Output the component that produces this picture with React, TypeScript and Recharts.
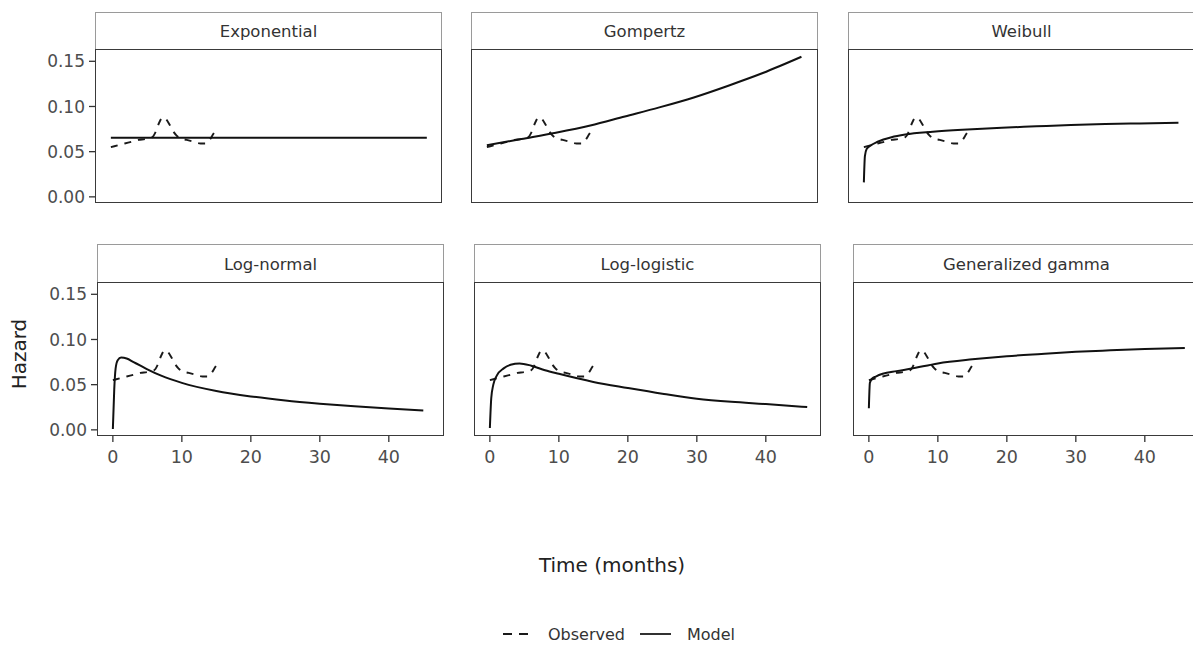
import React from "react";
import { LineChart, Line, XAxis, YAxis } from "recharts";

// ---------- data ----------
const panelTitles = ["Exponential", "Gompertz", "Weibull", "Log-normal", "Log-logistic", "Generalized gamma"];

const xTicks = [0, 10, 20, 30, 40];
const yTicks = [0, 0.05, 0.1, 0.15];

// Observed (smoothed empirical hazard), same in every panel
const obsTime = [0, 1, 2, 3, 4, 5, 6, 6.5, 7, 7.5, 8, 8.5, 9, 9.5, 10, 11, 12, 13, 13.7, 14.3, 14.8, 15.3];
const obsHazard = [0.055, 0.057, 0.059, 0.061, 0.063, 0.064, 0.066, 0.072, 0.082, 0.088, 0.086, 0.08, 0.073, 0.068, 0.065, 0.063, 0.061, 0.059, 0.059, 0.063, 0.069, 0.075];

// Model hazards
const expTime = [0, 10, 20, 30, 40, 45.8];
const expHazard = [0.0655, 0.0655, 0.0655, 0.0655, 0.0655, 0.0655];

const gompTime = [0, 5, 10, 15, 20, 25, 30, 35, 40, 45.6];
const gompHazard = [0.057, 0.064, 0.071, 0.079, 0.089, 0.099, 0.11, 0.123, 0.137, 0.155];

const weibTime = [0, 0.15, 0.4, 1, 2, 4, 6, 10, 15, 20, 25, 30, 35, 40, 45.6];
const weibHazard = [0.016, 0.045, 0.053, 0.057, 0.061, 0.066, 0.069, 0.072, 0.0745, 0.0765, 0.078, 0.0795, 0.0805, 0.0813, 0.082];

const lnormTime = [0, 0.2, 0.4, 0.7, 1.2, 2, 3, 4, 5, 7, 10, 15, 20, 25, 30, 35, 40, 45];
const lnormHazard = [0.001, 0.045, 0.068, 0.077, 0.08, 0.079, 0.075, 0.071, 0.067, 0.06, 0.052, 0.043, 0.037, 0.0325, 0.029, 0.026, 0.0235, 0.0215];

const llogTime = [0, 0.2, 0.5, 1, 2, 3, 4.3, 6, 8, 10, 15, 20, 25, 30, 35, 40, 46];
const llogHazard = [0.002, 0.035, 0.05, 0.06, 0.068, 0.072, 0.0735, 0.071, 0.066, 0.062, 0.053, 0.0463, 0.04, 0.0345, 0.031, 0.0285, 0.0252];

const ggamTime = [0, 0.15, 0.5, 1, 2, 4, 6, 10, 15, 20, 25, 30, 35, 40, 45.8];
const ggamHazard = [0.024, 0.052, 0.057, 0.059, 0.062, 0.065, 0.0675, 0.0735, 0.078, 0.0815, 0.084, 0.0863, 0.088, 0.0895, 0.0907];

const modelTimes = [expTime, gompTime, weibTime, lnormTime, llogTime, ggamTime];
const modelHazards = [expHazard, gompHazard, weibHazard, lnormHazard, llogHazard, ggamHazard];

const toRows = (t: number[], h: number[]) => t.map((v, i) => ({ t: v, h: h[i] }));
const observedRows = toRows(obsTime, obsHazard);

// ---------- layout ----------
const FONT = "'DejaVu Sans', Verdana, sans-serif";
const PW = 347;
const PH = 153;
const YW = 62;
const XH = 42;
const rowStripTop = [12, 244];
const rowPlotTop = [50, 283];
const colLeft = [
  [95, 471, 848],
  [97, 474, 853],
];

function Panel({ idx }: { idx: number }) {
  const row = Math.floor(idx / 3);
  const col = idx % 3;
  const left = colLeft[row][col];
  const plotTop = rowPlotTop[row];
  const stripTop = rowStripTop[row];
  const showY = col === 0;
  const showX = row === 1;
  const modelRows = toRows(modelTimes[idx], modelHazards[idx]);
  return (
    <>
      <div
        style={{
          position: "absolute",
          left,
          top: stripTop,
          width: PW,
          height: plotTop - stripTop,
          boxSizing: "border-box",
          border: "1px solid #9a9a9a",
          borderBottom: "none",
          background: "#fff",
          display: "flex",
          alignItems: "center",
          justifyContent: "center",
          fontFamily: FONT,
          fontSize: 16.5,
          color: "#333",
        }}
      >
        {panelTitles[idx]}
      </div>
      <div style={{ position: "absolute", left: left - YW, top: plotTop }}>
        <LineChart
          width={PW + YW}
          height={PH + XH}
          margin={{ top: 0, right: 0, bottom: 0, left: 0 }}
        >
          <XAxis
            type="number"
            dataKey="t"
            domain={[-2.3, 48]}
            ticks={xTicks}
            allowDataOverflow
            height={XH}
            axisLine={false}
            tick={showX ? { fill: "#4d4d4d", fontSize: 17.5, fontFamily: FONT } : false}
            tickLine={showX ? { stroke: "#333", strokeWidth: 1.3 } : false}
            tickSize={6}
            tickMargin={9}
          />
          <YAxis
            type="number"
            dataKey="h"
            domain={[-0.0068, 0.1625]}
            ticks={yTicks}
            allowDataOverflow
            width={YW}
            axisLine={false}
            tickFormatter={(v: number) => v.toFixed(2)}
            tick={showY ? { fill: "#4d4d4d", fontSize: 17, fontFamily: FONT } : false}
            tickLine={showY ? { stroke: "#333", strokeWidth: 1.3 } : false}
            tickSize={6}
            tickMargin={4}
          />
          <Line
            data={observedRows}
            dataKey="h"
            type="monotone"
            stroke="#1a1a1a"
            strokeWidth={1.9}
            strokeDasharray="7 7"
            dot={false}
            isAnimationActive={false}
          />
          <Line
            data={modelRows}
            dataKey="h"
            type="monotone"
            stroke="#111"
            strokeWidth={2}
            dot={false}
            isAnimationActive={false}
          />
        </LineChart>
      </div>
      <div
        style={{
          position: "absolute",
          left,
          top: plotTop - 1,
          width: PW,
          height: PH + 1,
          boxSizing: "border-box",
          border: "1.6px solid #3a3a3a",
          pointerEvents: "none",
        }}
      />
    </>
  );
}

export default function App() {
  return (
    <div
      style={{
        position: "absolute",
        left: 0,
        top: 0,
        width: 1193,
        height: 648,
        overflow: "hidden",
        background: "#fff",
      }}
    >
      {panelTitles.map((_, i) => (
        <Panel key={i} idx={i} />
      ))}
      <svg
        width={1193}
        height={648}
        style={{ position: "absolute", left: 0, top: 0, pointerEvents: "none" }}
      >
        <text
          x={26}
          y={354}
          transform="rotate(-90 26 354)"
          textAnchor="middle"
          fontFamily={FONT}
          fontSize={20}
          fill="#222"
        >
          Hazard
        </text>
        <text x={612} y={572} textAnchor="middle" fontFamily={FONT} fontSize={20} fill="#222">
          Time (months)
        </text>
        <line x1={503} y1={634} x2={528} y2={634} stroke="#1a1a1a" strokeWidth={1.8} strokeDasharray="9 7" />
        <text x={548} y={640} fontFamily={FONT} fontSize={16} fill="#333">
          Observed
        </text>
        <line x1={640} y1={634} x2={671} y2={634} stroke="#1a1a1a" strokeWidth={1.8} />
        <text x={687} y={640} fontFamily={FONT} fontSize={16} fill="#333">
          Model
        </text>
      </svg>
    </div>
  );
}
